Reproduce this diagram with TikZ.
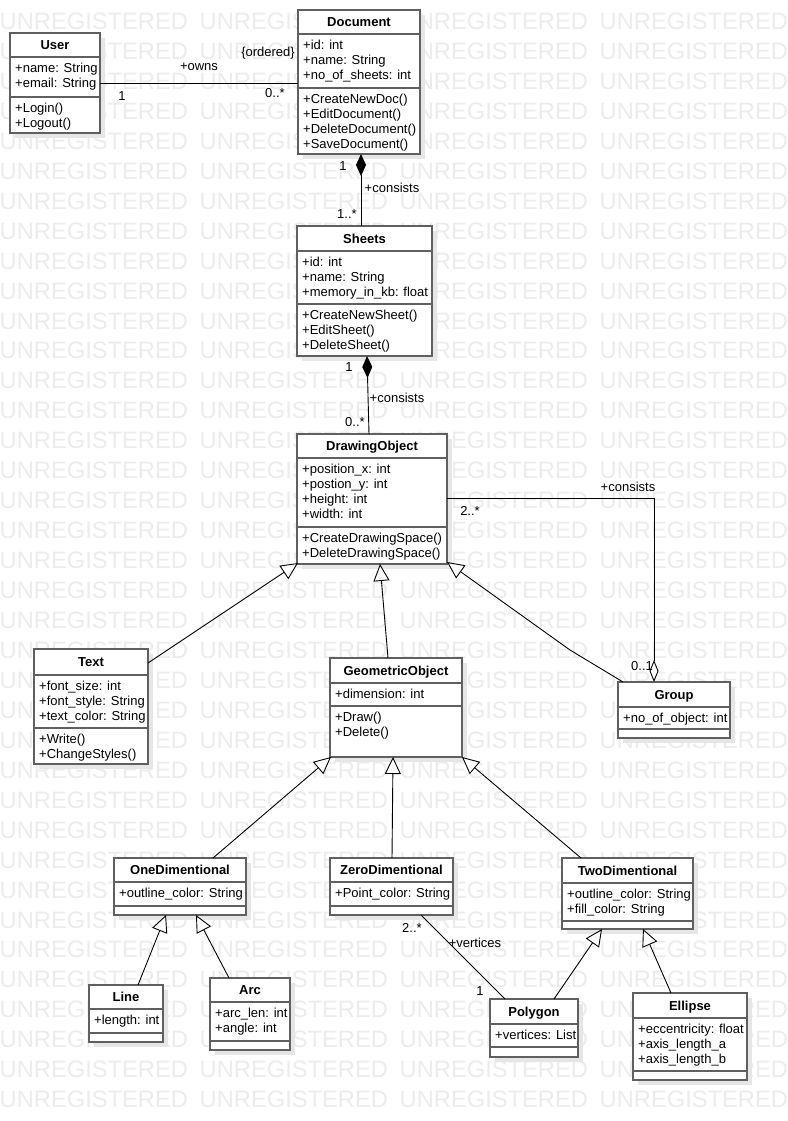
\documentclass[tikz,border=0pt]{standalone}
\usepackage{fontspec}
\setmainfont{Liberation Sans}
\usetikzlibrary{arrows.meta,calc}
\definecolor{wm}{RGB}{236,236,236}
\definecolor{bord}{RGB}{96,96,96}
\definecolor{shad}{RGB}{230,230,230}
\tikzset{
  classbox/.style={rectangle, draw=bord, fill=white, line width=1.4pt, inner sep=0pt, outer sep=0pt, anchor=north west},
  sepline/.style={draw=bord, line width=1.4pt},
  ctitle/.style={font=\bfseries\fontsize{13}{15}\selectfont, anchor=base, inner sep=0pt},
  txt/.style={font=\fontsize{13}{15}\selectfont, anchor=base west, inner sep=0pt},
  lbl/.style={font=\fontsize{13}{15}\selectfont, inner sep=0pt},
  wmtext/.style={font=\fontsize{23.7}{25}\selectfont, text=wm, anchor=base west, inner sep=0pt},
  conn/.style={draw=black, line width=0.9pt},
  assoc/.style={conn},
  gen/.style={conn, -{Triangle[length=17pt,width=16pt,fill=white,line width=0.9pt]}},
  comp/.style={conn, {Diamond[length=22pt,width=10pt,line width=0.9pt]}-},
  aggr/.style={conn, {Diamond[length=22pt,width=9pt,fill=white,line width=0.9pt]}-},
}
% #1 name, #2 x1, #3 y1, #4 x2, #5 y2, #6 header sep, #7 attr sep, #8 title, #9 attributes
\newcommand{\umlclass}[9]{%
  \fill[shad] (#2+5,#3+5) rectangle (#4+5,#5+5);
  \node[classbox, minimum width={(#4-#2)*1pt}, minimum height={(#5-#3)*1pt}] (#1) at (#2,#3) {};
  \draw[sepline] (#2,#6) -- (#4,#6);
  \draw[sepline] (#2,#7) -- (#4,#7);
  \node[ctitle] (#1-t) at ({(#2+#4)/2},{(#3+#6)/2+4.7}) {#8};
  \foreach \s [count=\i from 0] in {#9} {\node[txt] (#1-a\i) at (#2+5,{#6+15.5+15*\i}) {\s};}
}
% #1 name, #2 x1, #3 attr sep, #4 methods
\newcommand{\umlmethods}[4]{%
  \foreach \s [count=\i from 0] in {#4} {\node[txt] (#1-m\i) at (#2+5,{#3+15.5+15*\i}) {\s};}
}
\begin{document}
\begin{tikzpicture}[x=1pt,y=-1pt]
\useasboundingbox (0,0) rectangle (787,1121);
\fill[white] (0,0) rectangle (787,1121);
% watermark
\foreach \r in {0,...,36} {
  \foreach \c in {0,...,3} {
    \node[wmtext] (wm-\r-\c) at ({-0.5+200*\c},{29.5+29.95*\r}) {UNREGISTERED};
  }
}
% classes
\umlclass{User}{10}{33}{100}{133}{57}{97}{User}{+name: String,+email: String}
\umlmethods{User}{10}{97}{+Login(),+Logout()}
\umlclass{Document}{298}{10}{420}{154}{34}{88}{Document}{+id: int,+name: String,+no\_of\_sheets: int}
\umlmethods{Document}{298}{88}{+CreateNewDoc(),+EditDocument(),+DeleteDocument(),+SaveDocument()}
\umlclass{Sheets}{297}{226}{432}{356}{251}{304}{Sheets}{+id: int,+name: String,+memory\_in\_kb: float}
\umlmethods{Sheets}{297}{304}{+CreateNewSheet(),+EditSheet(),+DeleteSheet()}
\umlclass{DrawingObject}{297}{434}{447}{564}{458}{527}{DrawingObject}{+position\_x: int,+postion\_y: int,+height: int,+width: int}
\umlmethods{DrawingObject}{297}{527}{+CreateDrawingSpace(),+DeleteDrawingSpace()}
\umlclass{Text}{34}{649}{148}{764}{675}{728}{Text}{+font\_size: int,+font\_style: String,+text\_color: String}
\umlmethods{Text}{34}{728}{+Write(),+ChangeStyles()}
\umlclass{GeometricObject}{330}{658}{462}{757}{683}{706}{GeometricObject}{+dimension: int}
\umlmethods{GeometricObject}{330}{706}{+Draw(),+Delete()}
\umlclass{Group}{618}{682}{730}{738}{707}{729}{Group}{+no\_of\_object: int}
\umlclass{OneDimentional}{114}{858}{246}{915}{882}{906}{OneDimentional}{+outline\_color: String}
\umlclass{ZeroDimentional}{330}{858}{453}{915}{882}{906}{ZeroDimentional}{+Point\_color: String}
\umlclass{TwoDimentional}{562}{858}{693}{929}{883}{921}{TwoDimentional}{+outline\_color: String,+fill\_color: String}
\umlclass{Line}{89}{985}{163}{1042}{1009}{1033}{Line}{+length: int}
\umlclass{Arc}{210}{978}{290}{1050}{1002}{1041}{Arc}{+arc\_len: int,+angle: int}
\umlclass{Polygon}{490}{999}{578}{1057}{1024}{1047}{Polygon}{+vertices: List}
\umlclass{Ellipse}{633}{993}{747}{1080}{1018}{1071}{Ellipse}{+eccentricity: float,+axis\_length\_a,+axis\_length\_b}
% connectors
\draw[assoc] (User.east) -- (User.east -| Document.west);
\draw[comp] ($(Document.south west)+(63,0)$) -- ($(Sheets.north west)+(64,0)$);
\draw[comp] ($(Sheets.south west)+(70,0)$) -- ($(DrawingObject.north west)+(72,0)$);
\draw[aggr] ($(Group.north west)+(36,0)$) |- ($(DrawingObject.north east)+(0,64)$);
\draw[gen] ($(Text.north east)+(0,14)$) -- ($(DrawingObject.south west)+(1,-1)$);
\draw[gen] ($(GeometricObject.north west)+(58,0)$) -- ($(DrawingObject.south west)+(83,0)$);
\draw[gen] ($(Group.north west)+(5,0)$) -- (570,650) -- ($(DrawingObject.south east)+(0,-2)$);
\draw[gen] ($(OneDimentional.north west)+(99,0)$) -- ($(GeometricObject.south west)+(1,0)$);
\draw[gen] ($(ZeroDimentional.north west)+(62,0)$) -- ($(GeometricObject.south west)+(63,0)$);
\draw[gen] ($(TwoDimentional.north west)+(19,0)$) -- (GeometricObject.south east);
\draw[gen] ($(Line.north west)+(49,0)$) -- ($(OneDimentional.south west)+(52,0)$);
\draw[gen] ($(Arc.north west)+(19,0)$) -- ($(OneDimentional.south west)+(82,0)$);
\draw[assoc] ($(ZeroDimentional.south west)+(91,0)$) -- ($(Polygon.north west)+(15,0)$);
\draw[gen] ($(Polygon.north west)+(64,0)$) -- ($(TwoDimentional.south west)+(40,0)$);
\draw[gen] ($(Ellipse.north west)+(38,0)$) -- ($(TwoDimentional.south west)+(81,0)$);
% labels
\node[lbl] (l-owns) at (199,67) {+owns};
\node[lbl] (l-ord) at (268,53) {\{ordered\}};
\node[lbl] (l-u1) at (122,96) {1};
\node[lbl] (l-d0) at (275,93) {0..*};
\node[lbl] (l-ds1) at (343,166) {1};
\node[lbl] (l-dsc) at (392,188) {+consists};
\node[lbl] (l-dsm) at (347,214) {1..*};
\node[lbl] (l-so1) at (349,367) {1};
\node[lbl] (l-soc) at (397,398) {+consists};
\node[lbl] (l-som) at (355,422) {0..*};
\node[lbl] (l-gc) at (628,487) {+consists};
\node[lbl] (l-g2) at (470,511) {2..*};
\node[lbl] (l-g01) at (642,666) {0..1};
\node[lbl] (l-z2) at (412,928) {2..*};
\node[lbl] (l-zv) at (475,943) {+vertices};
\node[lbl] (l-p1) at (480,991) {1};
\end{tikzpicture}
\end{document}
